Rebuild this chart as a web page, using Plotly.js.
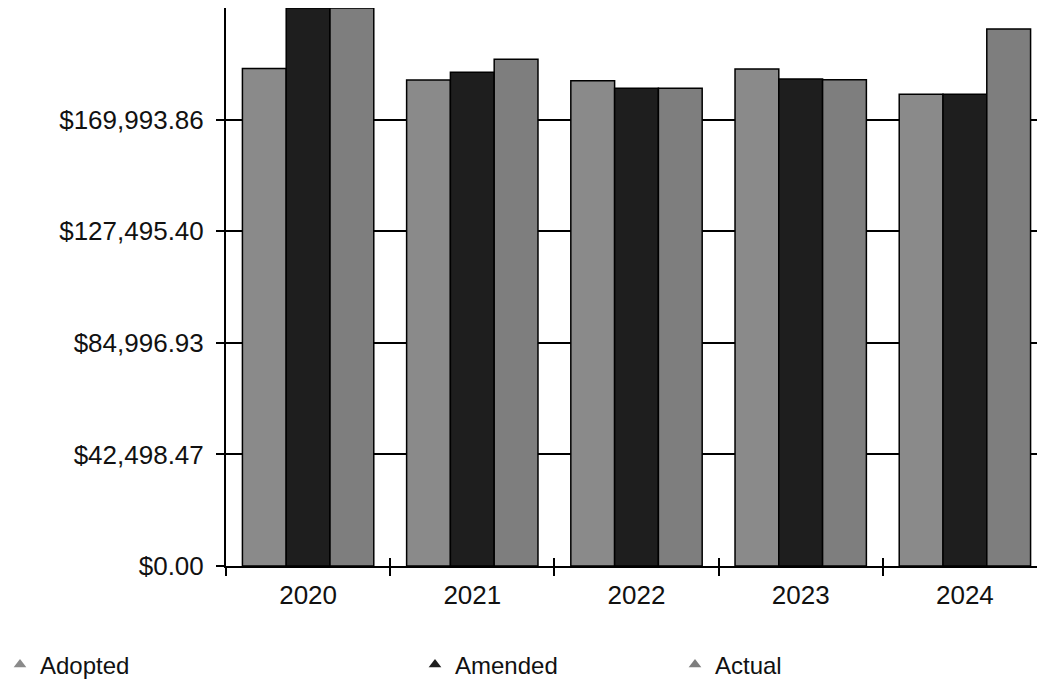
<!DOCTYPE html>
<html>
<head>
<meta charset="utf-8">
<script src="https://cdn.plot.ly/plotly-3.0.1.min.js"></script>
<style>
html,body{margin:0;padding:0;background:#fff;}
#chart{width:1037px;height:681px;}
</style>
</head>
<body>
<div id="chart"></div>
<script>
// ---- data ----
const years = ["2020", "2021", "2022", "2023", "2024"];
const adopted = [189500, 185070, 184800, 189260, 179620];
const amended = [212450, 188000, 181900, 185450, 179650];
const actual  = [212450, 192950, 181900, 185200, 204500];
const seriesNames = ["Adopted", "Amended", "Actual"];
const yTickVals = [0, 42498.47, 84996.93, 127495.40, 169993.86];
const yTickText = ["$0.00", "$42,498.47", "$84,996.93", "$127,495.40", "$169,993.86"];
const yMax = 212492.33;

const colors = ["#8a8a8a", "#1e1e1e", "#7e7e7e"];
const seriesVals = [adopted, amended, actual];
const legendIds = ["legend", "legend2", "legend3"];

const FONT = "Liberation Sans, Arial, sans-serif";

const traces = [];
seriesVals.forEach((vals, i) => {
  traces.push({
    type: "bar",
    name: seriesNames[i],
    x: years,
    y: vals,
    marker: {color: colors[i], line: {color: "#000", width: 1.5}},
    showlegend: false,
    hovertemplate: "%{x}: $%{y:,.2f}<extra>" + seriesNames[i] + "</extra>"
  });
});
// legend entries with triangle symbols
seriesVals.forEach((vals, i) => {
  traces.push({
    type: "scatter",
    mode: "markers",
    name: seriesNames[i],
    x: [null],
    y: [null],
    marker: {symbol: "triangle-up", size: 11, color: colors[i]},
    showlegend: true,
    legend: legendIds[i],
    hoverinfo: "skip"
  });
});
// helper trace for inside tick marks on the category axis
traces.push({
  type: "scatter", mode: "markers", x: years, y: years.map(() => null),
  xaxis: "x2", showlegend: false, hoverinfo: "skip"
});

const plotW = 1037 - 226;
const catW = 164.2;
const xr = [-0.5, -0.5 + plotW / catW];

function legendAt(px) {
  return {
    xref: "container", yref: "container",
    x: px / 1037, xanchor: "left",
    y: (681 - 665) / 681, yanchor: "middle",
    orientation: "h",
    bgcolor: "rgba(0,0,0,0)",
    borderwidth: 0,
    font: {family: FONT, size: 24, color: "#111"},
    itemwidth: 30
  };
}

const layout = {
  width: 1037,
  height: 681,
  margin: {l: 226, r: 0, t: 8, b: 115, autoexpand: false},
  paper_bgcolor: "#fff",
  plot_bgcolor: "#fff",
  barmode: "group",
  bargap: 0.2,
  bargroupgap: 0,
  font: {family: FONT, size: 26, color: "#111"},
  xaxis: {
    type: "category",
    categoryarray: years,
    range: xr,
    showline: true, linecolor: "#000", linewidth: 2,
    ticks: "outside", tickson: "boundaries", ticklen: 8, tickwidth: 2, tickcolor: "#000",
    showgrid: false, zeroline: false,
    ticklabelstandoff: 5,
    tickfont: {family: FONT, size: 26, color: "#111"},
    fixedrange: true
  },
  xaxis2: {
    type: "category",
    categoryarray: years,
    range: xr,
    overlaying: "x", anchor: "y", side: "bottom",
    showline: false,
    ticks: "inside", tickson: "boundaries", ticklen: 8, tickwidth: 2, tickcolor: "#000",
    showticklabels: false, showgrid: false, zeroline: false,
    fixedrange: true
  },
  yaxis: {
    range: [0, yMax],
    tickvals: yTickVals,
    ticktext: yTickText,
    showline: true, linecolor: "#000", linewidth: 2,
    ticks: "outside", ticklen: 8, tickwidth: 2, tickcolor: "#000",
    showgrid: true, gridcolor: "#000", gridwidth: 1.5,
    zeroline: false,
    ticklabelstandoff: 7,
    tickfont: {family: FONT, size: 26, color: "#111"},
    fixedrange: true
  },
  legend: legendAt(0),
  legend2: legendAt(415),
  legend3: legendAt(675)
};

Plotly.newPlot("chart", traces, layout, {displayModeBar: false});
</script>
</body>
</html>
